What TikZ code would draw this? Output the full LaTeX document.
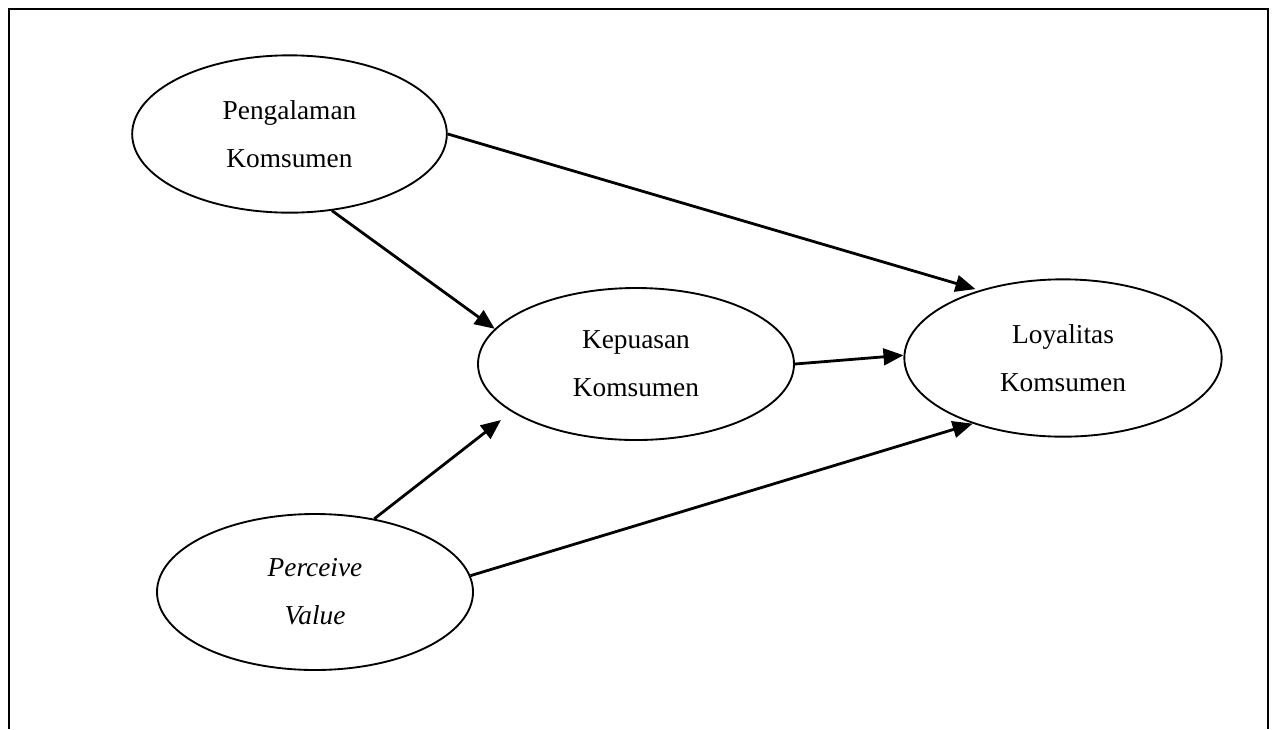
\documentclass[tikz,border=0pt]{standalone}
\usepackage{fontspec}
\setmainfont{Liberation Serif}
\usetikzlibrary{shapes.geometric,arrows.meta}

\begin{document}
\begin{tikzpicture}
	[x=0.75pt,y=-0.75pt,every node/.style={ellipse, draw, line width=1.4pt, inner sep=0pt, align=center, font=\fontsize{20.5}{36}\selectfont}]
	\tikzstyle{edges} = [line width=2.1pt, -{Triangle[length=15pt,width=12.5pt]}];
	\useasboundingbox (0,0) rectangle (1277,729);
	
	% open frame
	\draw[line width=1.5pt] (9,729) -- (9,9) -- (1268,9) -- (1268,729);
	
	\node[minimum width=236pt, minimum height=118pt] (peng) at (289.5,134) {Pengalaman\\Komsumen};
	\node[minimum width=237pt, minimum height=114pt] (kep) at (636,364) {Kepuasan\\Komsumen};
	\node[minimum width=238pt, minimum height=118pt] (loy) at (1063,358) {Loyalitas\\Komsumen};
	\node[minimum width=237pt, minimum height=117pt] (perc) at (315,592) {\itshape Perceive\\\itshape Value};
	
	\draw[edges, shorten >=3pt] (peng.east) -- (loy.141);
	\draw[edges] (peng.-61) -- (kep.166);
	\draw[edges] (kep.east) -- (loy.179);
	\draw[edges, shorten >=10pt] (perc.51) -- (kep.-159);
	\draw[edges] (perc.6) -- (loy.-144);
\end{tikzpicture}
\end{document}
